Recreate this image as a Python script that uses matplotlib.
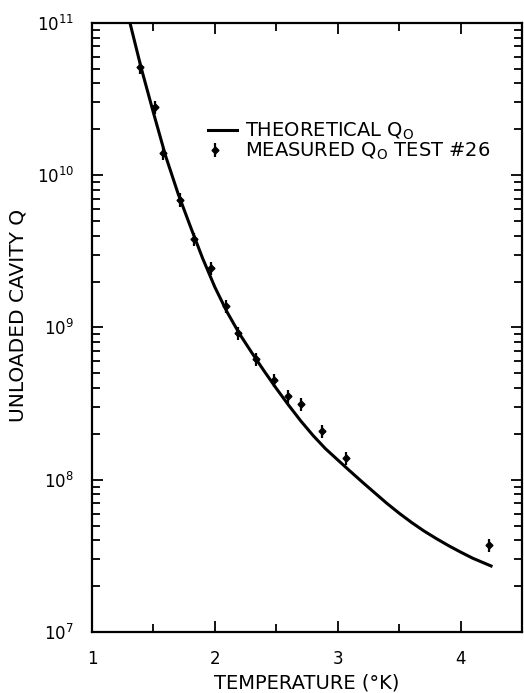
import numpy as np
import matplotlib
matplotlib.use("Agg")
import matplotlib.pyplot as plt
from matplotlib.ticker import LogLocator, MultipleLocator, NullFormatter

# theoretical Q0 curve
theory_T = [1.309, 1.40, 1.50, 1.60, 1.70, 1.80, 1.90, 2.00, 2.10, 2.20, 2.30, 2.40, 2.50, 2.60, 2.70,
            2.80, 2.90, 3.00, 3.10, 3.20, 3.30, 3.40, 3.50, 3.60, 3.70, 3.80, 3.90, 4.00, 4.10, 4.26]
theory_Q = [1.0e11, 5.07e10, 2.57e10, 1.33e10, 7.59e9, 4.62e9, 2.85e9, 1.84e9, 1.26e9, 9.1e8, 6.84e8,
            5.19e8, 3.98e8, 3.09e8, 2.43e8, 1.95e8, 1.60e8, 1.35e8, 1.14e8, 9.66e7, 8.22e7, 7.0e7,
            6.03e7, 5.25e7, 4.62e7, 4.12e7, 3.70e7, 3.35e7, 3.05e7, 2.69e7]

# measured Q0, test #26
meas_T = [1.39, 1.512, 1.577, 1.715, 1.829, 1.967, 2.089, 2.187, 2.333, 2.48, 2.593, 2.70, 2.87, 3.065, 4.23]
meas_Q = [5.1e10, 2.8e10, 1.40e10, 6.9e9, 3.8e9, 2.46e9, 1.38e9, 9.2e8, 6.2e8, 4.5e8, 3.55e8, 3.15e8,
          2.09e8, 1.39e8, 3.7e7]
meas_err = 0.10  # relative

plt.rcParams.update({"font.family": "DejaVu Sans", "font.size": 12})

fig = plt.figure(figsize=(5.24, 6.93), dpi=100)
ax = fig.add_axes([0.1756, 0.088, 0.8205, 0.879])

ax.plot(theory_T, theory_Q, color="black", lw=2.2, solid_capstyle="butt", solid_joinstyle="round")
q = np.array(meas_Q)
ax.errorbar(meas_T, q, yerr=q * meas_err, fmt="D", ms=3.5, color="black", ecolor="black",
            elinewidth=1.6, capsize=0)

ax.set_yscale("log")
ax.set_xlim(1, 4.5)
ax.set_ylim(1e7, 1e11)
ax.xaxis.set_major_locator(MultipleLocator(1))
ax.xaxis.set_minor_locator(MultipleLocator(0.5))
ax.yaxis.set_major_locator(LogLocator(base=10, numticks=10))
ax.yaxis.set_minor_locator(LogLocator(base=10, subs=np.arange(2, 10), numticks=20))
ax.yaxis.set_minor_formatter(NullFormatter())
ax.tick_params(which="both", direction="in", top=True, right=True, width=1.3)
ax.tick_params(which="major", length=8, labelsize=12)
ax.tick_params(axis="x", which="major", pad=13)
ax.tick_params(axis="y", which="major", pad=13)
ax.tick_params(which="minor", length=6)
for s in ax.spines.values():
    s.set_linewidth(1.6)

ax.set_xlabel("TEMPERATURE (°K)", fontsize=14, labelpad=4)
ax.set_ylabel("UNLOADED CAVITY Q", fontsize=14.5)
ax.yaxis.set_label_coords(-0.15, 0.52)

# hand-placed legend, as in the original drawing
ax.plot([0.270, 0.337], [0.824, 0.824], color="black", lw=2.2, transform=ax.transAxes, clip_on=False)
ax.errorbar([0.286], [0.7915], yerr=[0.011], fmt="D", ms=3.5, color="black", elinewidth=1.6,
            capsize=0, transform=ax.transAxes, clip_on=False)
ax.text(0.356, 0.813, r"THEORETICAL Q$_\mathregular{O}$", fontsize=14, transform=ax.transAxes,
        va="baseline", ha="left")
ax.text(0.356, 0.780, r"MEASURED Q$_\mathregular{O}$ TEST #26", fontsize=14, transform=ax.transAxes,
        va="baseline", ha="left")

fig.savefig("out.png", dpi=100)
